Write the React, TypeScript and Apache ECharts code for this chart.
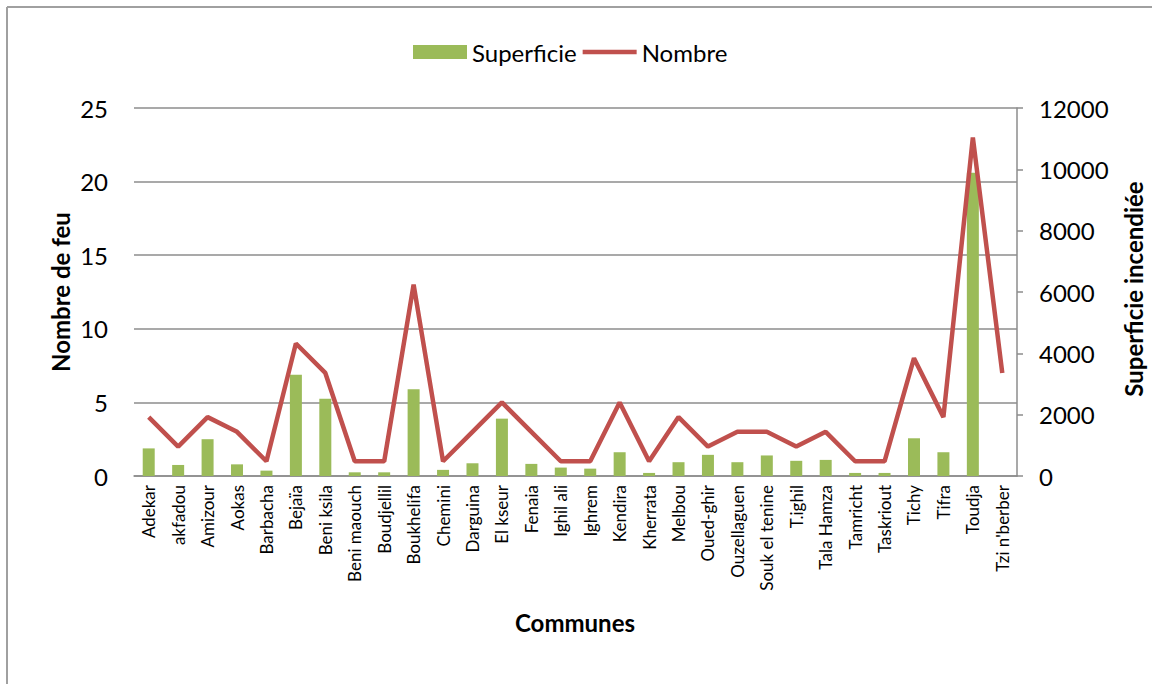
import React, { useEffect, useRef } from "react";
import * as echarts from "echarts";

const communes = [
  "Adekar", "akfadou", "Amizour", "Aokas", "Barbacha", "Bejaïa", "Beni ksila",
  "Beni maouch", "Boudjellil", "Boukhelifa", "Chemini", "Darguina", "El kseur",
  "Fenaia", "Ighil ali", "Ighrem", "Kendira", "Kherrata", "Melbou", "Oued-ghir",
  "Ouzellaguen", "Souk el tenine", "T.ighil", "Tala Hamza", "Tamricht",
  "Taskriout", "Tichy", "Tifra", "Toudja", "Tzi n'berber",
];

const superficie = [
  900, 360, 1200, 380, 175, 3300, 2520, 120, 120, 2830, 200, 415, 1870, 395,
  275, 240, 775, 100, 450, 690, 450, 670, 495, 525, 100, 100, 1230, 775, 9890, 0,
];

const nombre = [
  4, 2, 4, 3, 1, 9, 7, 1, 1, 13, 1, 3, 5, 3, 1, 1, 5, 1, 4, 2, 3, 3, 2, 3, 1,
  1, 8, 4, 23, 7,
];

const leftTicks = { min: 0, max: 25, interval: 5 };
const rightTicks = { min: 0, max: 12000, interval: 2000 };

const FONT = "Lato, 'Open Sans', sans-serif";

export default function App() {
  const ref = useRef<HTMLDivElement>(null);
  useEffect(() => {
    if (!ref.current) return;
    const chart = echarts.init(ref.current, undefined, { renderer: "svg" });
    chart.setOption({
      animation: false,
      backgroundColor: "#ffffff",
      textStyle: { fontFamily: FONT },
      legend: {
        top: 35,
        left: 408,
        itemWidth: 54,
        itemHeight: 14,
        itemGap: 6,
        symbolKeepAspect: true,
        textStyle: { fontSize: 24, color: "#000", fontFamily: FONT },
        data: [
          { name: "Superficie", icon: "rect" },
          {
            name: "Nombre",
            icon: "path://M0,0 L12,0 L12,1 L0,1 Z",
            itemStyle: { color: "#C0504D" },
          },
        ],
      },
      grid: { left: 134, right: 151, top: 108, bottom: 208, containLabel: false },
      xAxis: {
        type: "category",
        data: communes,
        axisLine: { show: true, lineStyle: { color: "#8c8c8c", width: 1.5 } },
        axisTick: { show: false },
        axisLabel: {
          interval: 0,
          rotate: 90,
          fontSize: 17,
          color: "#000",
          margin: 9,
          fontFamily: FONT,
        },
      },
      yAxis: [
        {
          type: "value",
          ...leftTicks,
          position: "left",
          axisLine: { show: false },
          axisTick: { show: false },
          splitLine: { show: true, lineStyle: { color: "#8c8c8c", width: 1.5 } },
          axisLabel: { fontSize: 24, color: "#000", margin: 26, fontFamily: FONT },
        },
        {
          type: "value",
          ...rightTicks,
          position: "right",
          axisLine: { show: true, lineStyle: { color: "#8c8c8c", width: 1.5 } },
          axisTick: { show: true, length: 6, lineStyle: { color: "#8c8c8c", width: 1.5 } },
          splitLine: { show: false },
          axisLabel: {
            fontSize: 24,
            color: "#000",
            margin: 22,
            fontFamily: FONT,
            formatter: (v: number) => String(v),
          },
        },
      ],
      series: [
        {
          name: "Superficie",
          type: "bar",
          yAxisIndex: 1,
          data: superficie,
          barWidth: 12,
          itemStyle: { color: "#9BBB59" },
        },
        {
          name: "Nombre",
          type: "line",
          yAxisIndex: 0,
          data: nombre,
          symbol: "none",
          lineStyle: { color: "#C0504D", width: 4.5 },
          itemStyle: { color: "#C0504D" },
        },
      ],
      graphic: [
        {
          type: "line",
          shape: { x1: 7, y1: 7, x2: 1152, y2: 7 },
          style: { stroke: "#a0a0a0", lineWidth: 2 },
        },
        {
          type: "line",
          shape: { x1: 7, y1: 7, x2: 7, y2: 684 },
          style: { stroke: "#a0a0a0", lineWidth: 2 },
        },
        {
          type: "text",
          x: 575,
          y: 622,
          style: {
            text: "Communes",
            fontSize: 24,
            fontWeight: "bold",
            fontFamily: FONT,
            fill: "#000",
            align: "center",
            verticalAlign: "middle",
          },
        },
        {
          type: "text",
          x: 60,
          y: 292,
          rotation: Math.PI / 2,
          style: {
            text: "Nombre de feu",
            fontSize: 24,
            fontWeight: "bold",
            fontFamily: FONT,
            fill: "#000",
            align: "center",
            verticalAlign: "middle",
          },
        },
        {
          type: "text",
          x: 1133,
          y: 289,
          rotation: Math.PI / 2,
          style: {
            text: "Superficie incendiée",
            fontSize: 24,
            fontWeight: "bold",
            fontFamily: FONT,
            fill: "#000",
            align: "center",
            verticalAlign: "middle",
          },
        },
      ],
    });
    return () => chart.dispose();
  }, []);
  return (
    <div
      ref={ref}
      style={{ position: "fixed", left: 0, top: 0, width: 1168, height: 684 }}
    />
  );
}
